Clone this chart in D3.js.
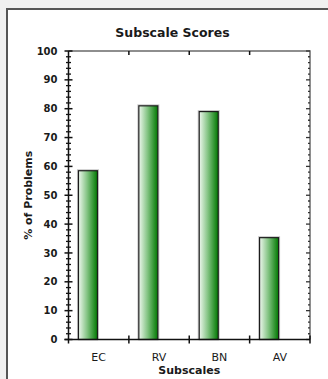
<!DOCTYPE html>
<html>
<head>
<meta charset="utf-8">
<script src="https://cdn.jsdelivr.net/npm/d3@7"></script>
<style>
  html, body { margin: 0; padding: 0; background: #f0f0f0; }
  svg { display: block; }
</style>
</head>
<body>
<svg id="chart" width="328" height="379"></svg>
<script>
// Subscale scores: percentage of problems per subscale
const categories = ["EC", "RV", "BN", "AV"];
const values = [58.5, 81, 79, 35.3];
const yTicks = [0, 10, 20, 30, 40, 50, 60, 70, 80, 90, 100];

const W = 328, H = 379;
const plot = { left: 68.5, right: 310, top: 51, bottom: 339.5 };

const svg = d3.select("#chart");

// gradient for the bars: light on the left, dark green on the right
const defs = svg.append("defs");
const grad = defs.append("linearGradient")
  .attr("id", "barGrad").attr("x1", "0%").attr("x2", "100%").attr("y1", "0%").attr("y2", "0%");
grad.append("stop").attr("offset", "0%").attr("stop-color", "#eef7ee");
grad.append("stop").attr("offset", "45%").attr("stop-color", "#84c484");
grad.append("stop").attr("offset", "100%").attr("stop-color", "#007800");

// white panel with a dark frame on the left and top
svg.append("rect").attr("x", 7).attr("y", 9).attr("width", W).attr("height", H)
  .attr("fill", "#ffffff");
svg.append("path").attr("d", `M7,${H} V9 H${W}`)
  .attr("fill", "none").attr("stroke", "#555").attr("stroke-width", 2);

const x = d3.scaleBand().domain(categories).range([plot.left, plot.right]).padding(0);
const y = d3.scaleLinear().domain([0, 100]).range([plot.bottom, plot.top]);

// frame: top and right edges
svg.append("path")
  .attr("d", `M${plot.left},${plot.top} H${plot.right} V${plot.bottom}`)
  .attr("fill", "none").attr("stroke", "#6a6a6a").attr("stroke-width", 1.5);

// bars (sit in the left part of each category band)
const bw = x.bandwidth();
const bars = svg.append("g");
bars.selectAll("rect.shadow").data(values).join("rect")
  .attr("class", "shadow")
  .attr("x", (d, i) => x(categories[i]) + bw * 0.165 - 1)
  .attr("y", d => y(d) - 1)
  .attr("width", bw * 0.315 + 2)
  .attr("height", d => y(0) - y(d) + 1)
  .attr("fill", "none").attr("stroke", "#c8c8c8").attr("stroke-width", 1);
bars.selectAll("rect.bar").data(values).join("rect")
  .attr("class", "bar")
  .attr("x", (d, i) => x(categories[i]) + bw * 0.165)
  .attr("y", d => y(d))
  .attr("width", bw * 0.315)
  .attr("height", d => y(0) - y(d))
  .attr("fill", "url(#barGrad)").attr("stroke", "#1c1c1c").attr("stroke-width", 1.2);

// left axis: major ticks crossing the line, minor ticks every 2 units
const minor = d3.range(0, 101, 2).filter(v => v % 10 !== 0);
const left = svg.append("g");
left.append("line").attr("x1", plot.left).attr("x2", plot.left)
  .attr("y1", plot.top).attr("y2", plot.bottom + 4)
  .attr("stroke", "#111").attr("stroke-width", 1.5);
left.selectAll("line.maj").data(yTicks).join("line").attr("class", "maj")
  .attr("x1", plot.left - 4).attr("x2", plot.left + 4)
  .attr("y1", d => y(d)).attr("y2", d => y(d))
  .attr("stroke", "#111").attr("stroke-width", 1.5);
left.selectAll("line.min").data(minor).join("line").attr("class", "min")
  .attr("x1", plot.left - 2.5).attr("x2", plot.left + 2.5)
  .attr("y1", d => y(d)).attr("y2", d => y(d))
  .attr("stroke", "#111").attr("stroke-width", 1.3);
left.selectAll("text").data(yTicks).join("text")
  .attr("x", plot.left - 11).attr("y", d => y(d)).attr("dy", "0.36em")
  .attr("text-anchor", "end")
  .attr("font-family", "DejaVu Sans").attr("font-weight", "bold").attr("font-size", 10)
  .attr("fill", "#1a1a1a")
  .text(d => d);

// right axis: inward ticks
const right = svg.append("g");
right.selectAll("line.maj").data(yTicks).join("line")
  .attr("x1", plot.right - 4).attr("x2", plot.right)
  .attr("y1", d => y(d)).attr("y2", d => y(d))
  .attr("stroke", "#333").attr("stroke-width", 1.3);
right.selectAll("line.min").data(minor).join("line")
  .attr("x1", plot.right - 2).attr("x2", plot.right)
  .attr("y1", d => y(d)).attr("y2", d => y(d))
  .attr("stroke", "#333").attr("stroke-width", 1.3);

// bottom axis with ticks at category boundaries
const bounds = categories.slice(1).map(c => x(c));
const bottom = svg.append("g");
bottom.append("line").attr("x1", plot.left - 4).attr("x2", plot.right)
  .attr("y1", plot.bottom).attr("y2", plot.bottom)
  .attr("stroke", "#111").attr("stroke-width", 1.5);
bottom.selectAll("line.b").data(bounds.concat([plot.right])).join("line").attr("class", "b")
  .attr("x1", d => d).attr("x2", d => d)
  .attr("y1", plot.bottom - 4).attr("y2", plot.bottom + 4)
  .attr("stroke", "#111").attr("stroke-width", 1.5);
bottom.selectAll("text").data(categories).join("text")
  .attr("x", d => x(d) + bw / 2).attr("y", 360.5)
  .attr("text-anchor", "middle")
  .attr("font-family", "DejaVu Sans").attr("font-size", 11)
  .attr("fill", "#1a1a1a")
  .text(d => d);

// top edge ticks at category boundaries, pointing down
svg.append("g").selectAll("line").data(bounds).join("line")
  .attr("x1", d => d).attr("x2", d => d)
  .attr("y1", plot.top).attr("y2", plot.top + 4)
  .attr("stroke", "#111").attr("stroke-width", 1.5);

// titles
svg.append("text").attr("x", 172.5).attr("y", 37)
  .attr("text-anchor", "middle")
  .attr("font-family", "DejaVu Sans").attr("font-weight", "bold").attr("font-size", 12.5)
  .attr("fill", "#1a1a1a")
  .text("Subscale Scores");
svg.append("text").attr("x", (plot.left + plot.right) / 2).attr("y", 373.5)
  .attr("text-anchor", "middle")
  .attr("font-family", "DejaVu Sans").attr("font-weight", "bold").attr("font-size", 11)
  .attr("fill", "#1a1a1a")
  .text("Subscales");
svg.append("text")
  .attr("transform", `translate(32,${(plot.top + plot.bottom) / 2}) rotate(-90)`)
  .attr("text-anchor", "middle")
  .attr("font-family", "DejaVu Sans").attr("font-weight", "bold").attr("font-size", 11)
  .attr("fill", "#1a1a1a")
  .text("% of Problems");
</script>
</body>
</html>
